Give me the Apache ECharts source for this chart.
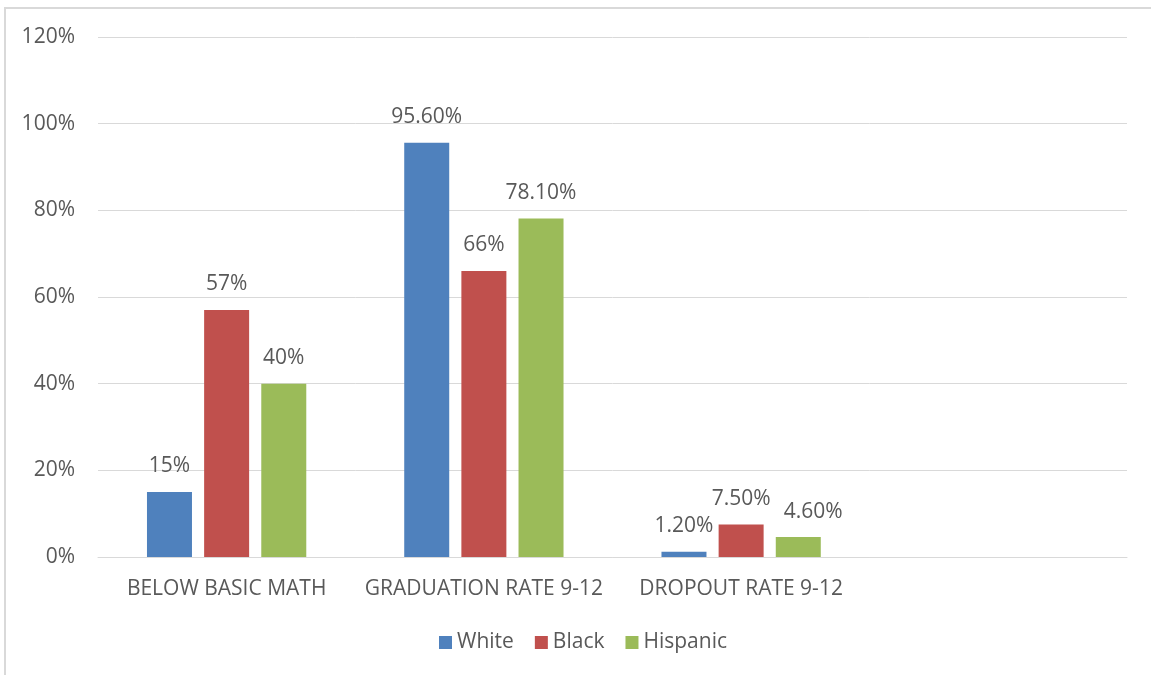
<!DOCTYPE html>
<html>
<head>
<meta charset="utf-8">
<script src="https://cdn.jsdelivr.net/npm/echarts@6/dist/echarts.min.js"></script>
<style>
  html, body { margin: 0; padding: 0; background: #fff; }
  #frame { position: absolute; left: 4px; top: 7px; width: 1160px; height: 700px; border: 2px solid #d9d9d9; box-sizing: border-box; }
  #chart { position: absolute; left: 0; top: 0; width: 1151px; height: 675px; }
</style>
</head>
<body>
<div id="frame"></div>
<div id="chart"></div>
<script>
// categories (last one is an empty slot, as in the original sheet)
const categories = ['BELOW BASIC MATH', 'GRADUATION RATE 9-12', 'DROPOUT RATE 9-12', '']
const white = [15, 95.6, 1.2]
const black = [57, 66, 7.5]
const hispanic = [40, 78.1, 4.6]
const yTicks = [0, 20, 40, 60, 80, 100, 120]

const textColor = '#595959'
const font = '"Open Sans", "Noto Sans", sans-serif'

// labelShift: {index: dx} nudges a label sideways so it doesn't collide
function makeSeries(name, data, color, labelShift) {
  labelShift = labelShift || {}
  return {
    name: name,
    type: 'bar',
    data: data.map(function(v, i) {
      if (labelShift[i] === undefined) return v
      return { value: v, label: { offset: [labelShift[i], 0] } }
    }),
    barWidth: 45,
    barGap: '27%',
    itemStyle: { color: color },
    label: {
      show: true,
      position: 'top',
      distance: 15,
      color: textColor,
      fontSize: 21,
      fontFamily: font,
      formatter: function(p) {
        // whole numbers are shown plain, the rest with two decimals
        const v = p.value
        return (Number.isInteger(v) ? v : v.toFixed(2)) + '%'
      }
    }
  }
}

const myChart = echarts.init(document.getElementById('chart'))
const option = {
  animation: false,
  grid: {
    top: 37,
    left: 98,
    right: 24,
    bottom: 118
  },
  legend: {
    left: 439,
    top: 632,
    padding: 0,
    itemWidth: 13,
    itemHeight: 13,
    itemGap: 21,
    icon: 'rect',
    textStyle: {
      color: textColor,
      fontSize: 21,
      fontFamily: font
    },
    data: ['White', 'Black', 'Hispanic']
  },
  xAxis: {
    type: 'category',
    data: categories,
    axisLine: { show: true, lineStyle: { color: '#d9d9d9', width: 1 } },
    axisTick: { show: false },
    axisLabel: {
      color: textColor,
      fontSize: 21,
      fontFamily: font,
      margin: 22,
      interval: 0
    }
  },
  yAxis: {
    type: 'value',
    min: yTicks[0],
    max: yTicks[yTicks.length - 1],
    interval: 20,
    axisLine: { show: false },
    axisTick: { show: false },
    splitLine: { lineStyle: { color: '#d9d9d9', width: 1 } },
    axisLabel: {
      color: textColor,
      fontSize: 21,
      fontFamily: font,
      margin: 23,
      formatter: '{value}%'
    }
  },
  series: [
    makeSeries('White', white, '#4f81bd'),
    makeSeries('Black', black, '#c0504d'),
    makeSeries('Hispanic', hispanic, '#9bbb59', { 2: 15 })
  ]
}
myChart.setOption(option)
</script>
</body>
</html>
